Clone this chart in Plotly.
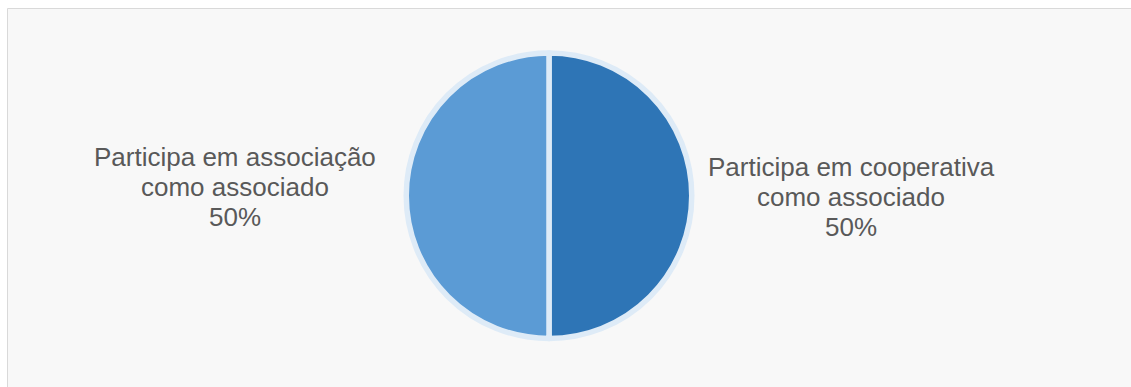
import plotly.graph_objects as go

labels = ["Participa em cooperativa como associado", "Participa em associação como associado"]
label_lines = [["Participa em cooperativa", "como associado"], ["Participa em associação", "como associado"]]
values = [50, 50]
colors = ["#2e75b6", "#5b9bd5"]

W, H = 1131, 387


def px(x):
    return x / W


def py(y):
    return 1 - y / H


fig = go.Figure()
fig.add_trace(go.Pie(
    labels=labels, values=values, sort=False, direction="clockwise", rotation=0,
    marker=dict(colors=colors, line=dict(color="#deebf7", width=5.5)),
    textinfo="none", hoverinfo="label+percent", showlegend=False,
    domain=dict(x=[px(549 - 300), px(549 + 300)], y=[py(338.5), py(53)]),
))

centers = [(851, 167), (235, 157)]
spacing = 30
font = dict(family="Liberation Sans, Arial, sans-serif", size=26, color="#595959")
for i, (lines, v) in enumerate(zip(label_lines, values)):
    cx, cy = centers[i]
    pct = v / sum(values) * 100
    all_lines = lines + [f"{pct:.0f}%"]
    for j, t in enumerate(all_lines):
        fig.add_annotation(x=px(cx), y=py(cy + j * spacing), xref="paper", yref="paper",
                           text=t, showarrow=False, xanchor="center", yanchor="middle", font=font)

fig.add_shape(type="rect", xref="paper", yref="paper", x0=px(7.5), y0=-0.1, x1=1.1, y1=py(8.5),
              line=dict(color="#d9d9d9", width=1), fillcolor="#f8f8f8", layer="below")

fig.update_layout(width=W, height=H, margin=dict(l=0, r=0, t=0, b=0),
                  paper_bgcolor="white", plot_bgcolor="white")
fig.write_html("out.html", config={"displayModeBar": False},
               post_script="document.body.style.margin='0px';document.body.style.overflow='hidden';")
